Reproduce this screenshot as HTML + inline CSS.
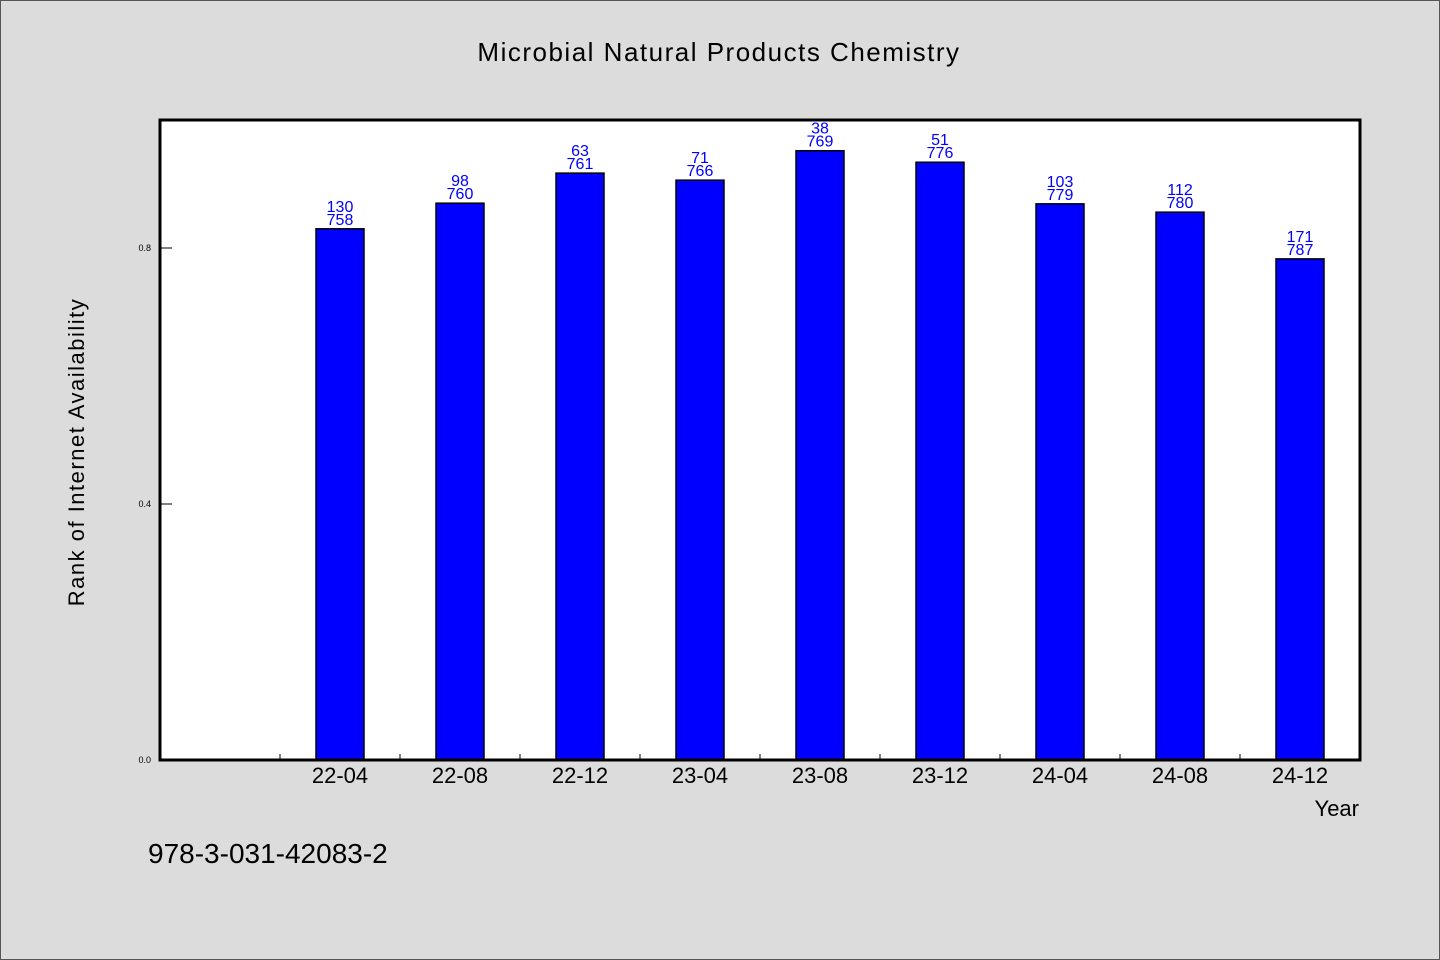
<!DOCTYPE html>
<html><head><meta charset="utf-8"><style>
html,body{margin:0;padding:0;background:#dcdcdc;}
svg{display:block;font-family:"WenQuanYi Zen Hei","Liberation Sans",sans-serif;}
</style></head><body>
<svg id="chart" width="1440" height="960" xmlns="http://www.w3.org/2000/svg">
<rect x="0.5" y="0.5" width="1439" height="959" fill="#dcdcdc" stroke="#555"/>
<text x="719" y="61" font-size="26" text-anchor="middle" letter-spacing="1.5">Microbial Natural Products Chemistry</text>
<rect x="160" y="120" width="1200" height="640" fill="#fff"/>
<g id="bars"></g>
<g id="axes"></g>
<rect x="160" y="120" width="1200" height="640" fill="none" stroke="#000" stroke-width="3"/>
<text x="84" y="452" font-size="22" text-anchor="middle" letter-spacing="1.5" transform="rotate(-90 84 452)">Rank of Internet Availability</text>
<text x="1359" y="816" font-size="22" text-anchor="end">Year</text>
<text x="148" y="863" font-size="28">978-3-031-42083-2</text>
</svg>
<script>
const categories = ["", "22-04","22-08","22-12","23-04","23-08","23-12","24-04","24-08","24-12"];
const values = [null, 0.830, 0.870, 0.917, 0.906, 0.952, 0.934, 0.869, 0.856, 0.783];
const topLabels = ["", "130","98","63","71","38","51","103","112","171"];
const bottomLabels = ["", "758","760","761","766","769","776","779","780","787"];
const yTicks = [0.0, 0.4, 0.8];
const yTickLabels = ["0.0","0.4","0.8"];

const NS = "http://www.w3.org/2000/svg";
const x0 = 160, pw = 1200, y0 = 760, ph = 640;
const slot = pw / categories.length;
const xCenter = i => x0 + slot * (i + 0.5);
const yScale = v => y0 - v * ph;
function mk(tag, attrs, parent, text) {
  const e = document.createElementNS(NS, tag);
  for (const k in attrs) e.setAttribute(k, attrs[k]);
  if (text !== undefined) e.textContent = text;
  parent.appendChild(e);
  return e;
}
const bars = document.getElementById("bars");
const axes = document.getElementById("axes");
categories.forEach((c, i) => {
  if (values[i] !== null) {
    const yt = yScale(values[i]);
    const r = mk("rect", {x: xCenter(i) - 24, y: yt, width: 48, height: y0 - yt, fill: "#0000ff", stroke: "#000", "stroke-width": 1.5}, bars);
    
    
    const t1 = mk("text", {x: xCenter(i), y: yt - 17, "font-size": 16, fill: "#0000ff", "text-anchor": "middle"}, bars, topLabels[i]);
    
    
    const t2 = mk("text", {x: xCenter(i), y: yt - 4, "font-size": 16, fill: "#0000ff", "text-anchor": "middle"}, bars, bottomLabels[i]);
    
    
  }
  if (c) {
    const xl = mk("text", {x: xCenter(i), y: 783, "font-size": 22, "text-anchor": "middle"}, axes, c);
    
    
  }
  if (i > 0) {
    const tk = mk("line", {x1: x0 + slot * i, x2: x0 + slot * i, y1: y0, y2: y0 - 6, stroke: "#000", "stroke-width": 1}, axes);
    
    
  }
});
yTicks.forEach((v, i) => {
  const y = yScale(v);
  const l = mk("line", {x1: x0, x2: x0 + 12, y1: y, y2: y, stroke: "#000", "stroke-width": 1}, axes);
  
  
  const t = mk("text", {x: 151, y: y + 3, "font-size": 9, "text-anchor": "end"}, axes, yTickLabels[i]);
  
  
});
</script>
</body></html>
